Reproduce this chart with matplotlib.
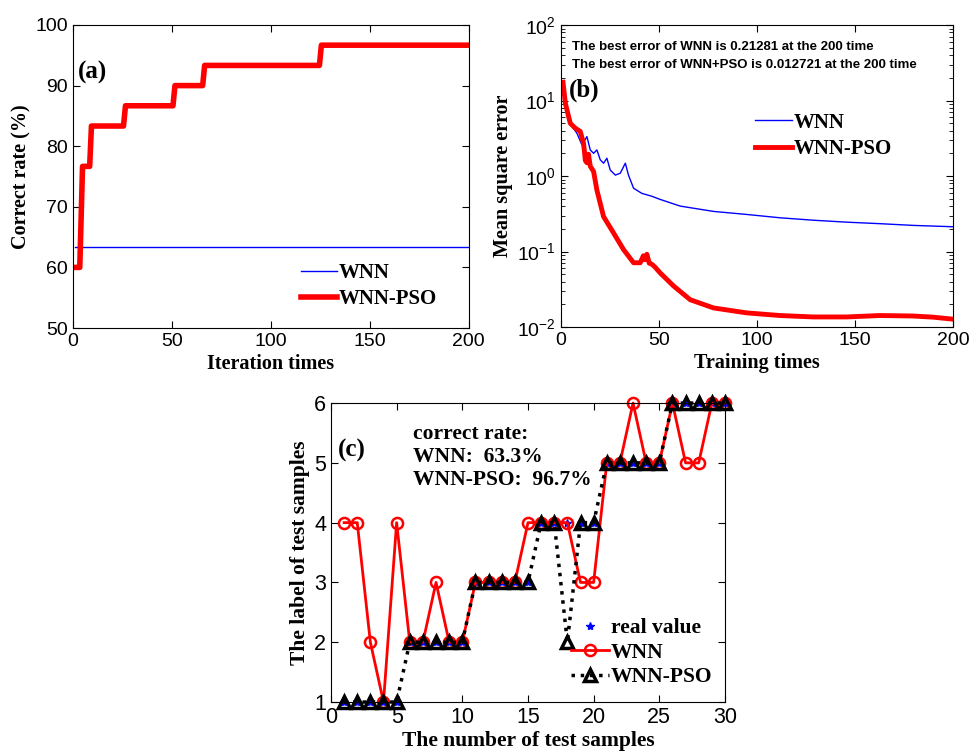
import matplotlib
matplotlib.use('Agg')
import matplotlib.pyplot as plt

plt.rcParams['font.family'] = ['Liberation Sans', 'DejaVu Sans']
plt.rcParams['mathtext.default'] = 'regular'

# (a) correct rate vs iteration
a_iter_wnn = [1, 200]
a_rate_wnn = [63.33, 63.33]
a_iter_pso = [1, 3.4, 4.8, 8.4, 9.3, 25.5, 26.5, 50.5, 51.5, 65.5, 66.5, 124.5, 125.5, 200]
a_rate_pso = [60, 60, 76.67, 76.67, 83.33, 83.33, 86.67, 86.67, 90, 90, 93.33, 93.33, 96.67, 96.67]

# (b) mean square error vs training times
b_x_wnn = [1, 3, 5, 8.1, 10.7, 13.2, 14.9, 16.6, 18.3, 20, 21.7, 23.4, 25.1, 27.7, 30.2,
           32.8, 34.4, 37, 41.2, 46.3, 50.6, 60.8, 77.8, 94.7, 111.7, 128.7, 145.7,
           162.6, 179.6, 200]
b_wnn = [17, 8.5, 4.8, 3.69, 2.58, 3.33, 2.22, 2.0, 2.22, 1.64, 1.48, 1.72, 1.2, 1.03, 1.09,
         1.48, 1.03, 0.69, 0.59, 0.54, 0.49, 0.40, 0.34, 0.31, 0.28, 0.26, 0.245,
         0.234, 0.222, 0.213]
b_x_pso = [1, 2.2, 4.7, 7.3, 9.8, 11.5, 12.4, 13.2, 14, 14.9, 16.6, 18.3, 21.7, 26.8, 31.9,
           37, 40.4, 42, 42.8, 43.8, 45, 46.3, 48, 50.6, 57.4, 65.9, 77.8, 94.7, 111.7,
           128.7, 145.7, 162.6, 179.6, 190, 200]
b_pso = [17.5, 9.2, 5.0, 4.3, 3.9, 2.7, 1.6, 1.5, 1.95, 1.35, 1.15, 0.65, 0.29, 0.176, 0.106,
         0.071, 0.071, 0.088, 0.078, 0.092, 0.07, 0.068, 0.062, 0.052, 0.035, 0.023, 0.0179,
         0.0154, 0.0142, 0.0136, 0.0136, 0.0142, 0.014, 0.0135, 0.0127]

# (c) labels of test samples
c_samples = list(range(1, 31))
c_real = [1, 1, 1, 1, 1, 2, 2, 2, 2, 2, 3, 3, 3, 3, 3, 4, 4, 4, 4, 4, 5, 5, 5, 5, 5, 6, 6, 6, 6, 6]
c_wnn = [4, 4, 2, 1, 4, 2, 2, 3, 2, 2, 3, 3, 3, 3, 4, 4, 4, 4, 3, 3, 5, 5, 6, 5, 5, 6, 5, 5, 6, 6]
c_pso = [1, 1, 1, 1, 1, 2, 2, 2, 2, 2, 3, 3, 3, 3, 3, 4, 4, 2, 4, 4, 5, 5, 5, 5, 5, 6, 6, 6, 6, 6]

serif_b = dict(family='Liberation Serif', weight='bold')


def style_axes(ax, tick_size):
    ax.tick_params(direction='in', top=True, right=True, length=5, labelsize=tick_size)
    ax.tick_params(which='minor', direction='in', top=True, right=True, length=3)


fig = plt.figure(figsize=(9.7, 7.53), dpi=100)

# ---- panel (a)
ax1 = fig.add_axes([0.0753, 0.5644, 0.408, 0.4024])
ax1.plot(a_iter_wnn, a_rate_wnn, color='blue', lw=1, label='WNN')
ax1.plot(a_iter_pso, a_rate_pso, color='red', lw=4, label='WNN-PSO')
ax1.set_xlim(0, 200)
ax1.set_ylim(50, 100)
ax1.set_xticks([0, 50, 100, 150, 200])
ax1.set_yticks([50, 60, 70, 80, 90, 100])
style_axes(ax1, 14)
ax1.set_xlabel('Iteration times', fontsize=14.5, labelpad=3, **serif_b)
ax1.set_ylabel('Correct rate (%)', fontsize=14.5, labelpad=3, **serif_b)
ax1.text(0.013, 0.845, '(a)', transform=ax1.transAxes, fontsize=18, va='center', **serif_b)
ax1.legend(loc='upper left', bbox_to_anchor=(0.575, 0.215), frameon=False,
           handlelength=1.75, handletextpad=0.1, borderpad=0, borderaxespad=0,
           labelspacing=0.3, prop=dict(size=15, **serif_b))

# ---- panel (b)
ax2 = fig.add_axes([0.5784, 0.5657, 0.4041, 0.401])
ax2.plot(b_x_wnn, b_wnn, color='blue', lw=1, label='WNN')
ax2.plot(b_x_pso, b_pso, color='red', lw=3.5, label='WNN-PSO')
ax2.set_yscale('log')
ax2.set_xlim(0, 200)
ax2.set_ylim(1e-2, 1e2)
ax2.set_xticks([0, 50, 100, 150, 200])
ax2.set_yticks([1e-2, 1e-1, 1e0, 1e1, 1e2])
ax2.set_yticklabels(['$10^{-2}$', '$10^{-1}$', '$10^{0}$', '$10^{1}$', '$10^{2}$'])
style_axes(ax2, 14)
ax2.set_xlabel('Training times', fontsize=14.5, labelpad=3, **serif_b)
ax2.set_ylabel('Mean square error', fontsize=14.5, labelpad=3, **serif_b)
ax2.text(0.029, 0.917, 'The best error of WNN is 0.21281 at the 200 time',
         transform=ax2.transAxes, fontsize=9.5, fontweight='bold', va='baseline')
ax2.text(0.029, 0.858, 'The best error of WNN+PSO is 0.012721 at the 200 time',
         transform=ax2.transAxes, fontsize=9.5, fontweight='bold', va='baseline')
ax2.text(0.021, 0.785, '(b)', transform=ax2.transAxes, fontsize=18, va='center', **serif_b)
ax2.legend(loc='upper left', bbox_to_anchor=(0.495, 0.71), frameon=False,
           handlelength=1.75, handletextpad=0.1, borderpad=0, borderaxespad=0,
           labelspacing=0.3, prop=dict(size=15, **serif_b))

# ---- panel (c)
ax3 = fig.add_axes([0.3412, 0.0677, 0.4062, 0.397])
ax3.plot(c_samples, c_real, linestyle='none', marker='*', color='blue', ms=6,
         clip_on=False, label='real value')
ax3.plot(c_samples, c_wnn, color='red', lw=2, marker='o', ms=8, mfc='none', mew=1.8,
         clip_on=False, label='WNN')
ax3.plot(c_samples, c_pso, color='black', lw=2.5, linestyle=':', marker='^', ms=8,
         mfc='none', mew=2.5, clip_on=False, label='WNN-PSO')
ax3.set_xlim(0, 30)
ax3.set_ylim(1, 6)
ax3.set_xticks([0, 5, 10, 15, 20, 25, 30])
ax3.set_yticks([1, 2, 3, 4, 5, 6])
style_axes(ax3, 15.5)
ax3.set_xlabel('The number of test samples', fontsize=15.5, labelpad=2, **serif_b)
ax3.set_ylabel('The label of test samples', fontsize=15.5, labelpad=3, **serif_b)
ax3.text(0.018, 0.84, '(c)', transform=ax3.transAxes, fontsize=18, va='center', **serif_b)
ax3.text(0.208, 0.93, 'correct rate:\nWNN:  63.3%\nWNN-PSO:  96.7%', transform=ax3.transAxes,
         fontsize=15.5, va='top', linespacing=1.2, **serif_b)
ax3.legend(loc='upper left', bbox_to_anchor=(0.61, 0.28), frameon=False,
           handlelength=1.75, handletextpad=0.1, borderpad=0, borderaxespad=0,
           labelspacing=0.2, prop=dict(size=15.5, **serif_b))

fig.savefig('out.png', dpi=100)
